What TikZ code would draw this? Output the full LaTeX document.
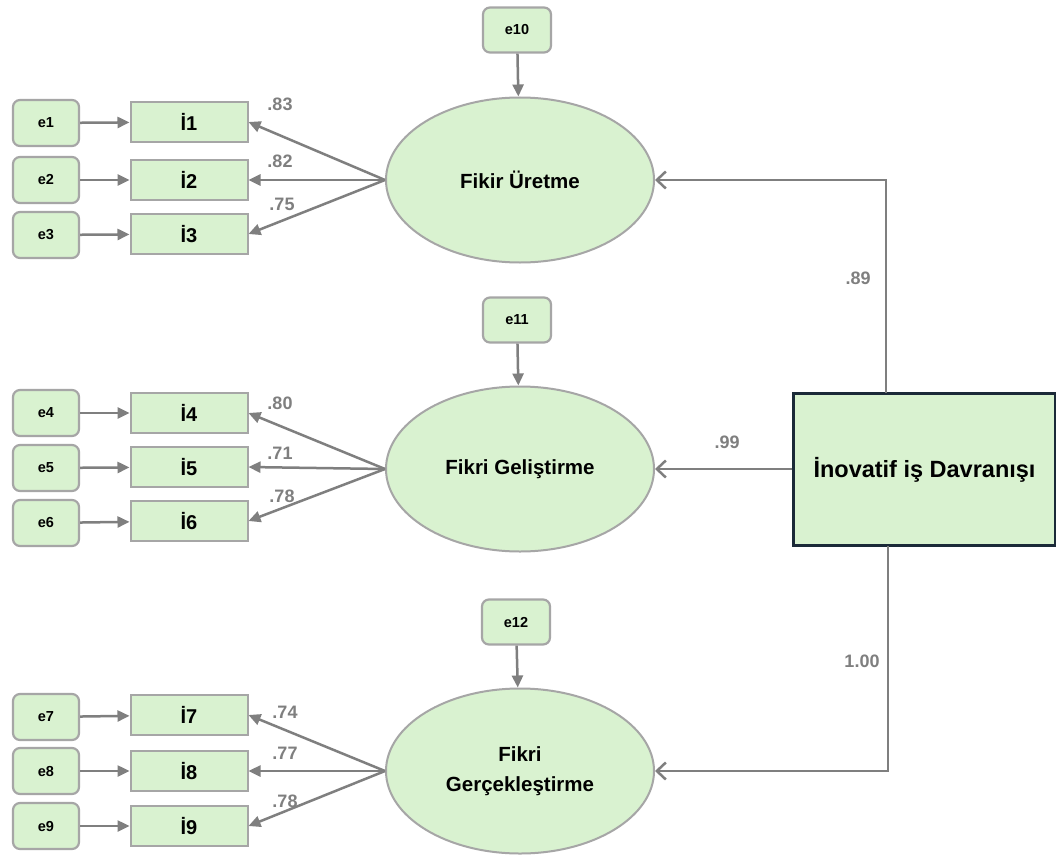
\documentclass[tikz,border=0pt]{standalone}
\usepackage{fontspec}
\setmainfont{Liberation Sans}
\usetikzlibrary{arrows.meta,calc,shapes.geometric}
\definecolor{gfill}{HTML}{D9F2D0}
\definecolor{gline}{HTML}{A6A6A6}
\definecolor{garrow}{HTML}{7F7F7F}
\definecolor{navy}{HTML}{1B2A38}
\tikzset{
  errbox/.style={draw=gline,line width=2.2pt,fill=gfill,rounded corners=7pt,minimum width=66pt,minimum height=46pt,inner sep=0pt,font=\bfseries\fontsize{14.5}{16}\selectfont},
  itembox/.style={draw=gline,line width=2pt,fill=gfill,minimum width=117pt,minimum height=40pt,inner sep=0pt,font=\bfseries\fontsize{20}{22}\selectfont},
  latent/.style={draw=gline,line width=2pt,fill=gfill,ellipse,minimum width=268pt,minimum height=165pt,inner sep=0pt,align=center,font=\bfseries\fontsize{20.5}{30}\selectfont},
  errarrow/.style={draw=garrow,line width=2.5pt,-{Triangle[length=12pt,width=11pt]}},
  loadarrow/.style={draw=garrow,line width=2.5pt,-{Triangle[length=12pt,width=11pt]}},
  structarrow/.style={draw=garrow,line width=2.5pt,-{Straight Barb[length=9pt,width=17pt,line width=2.5pt]}},
  coef/.style={text=garrow,font=\bfseries\fontsize{18}{20}\selectfont,inner sep=0pt},
}
\begin{document}
\begin{tikzpicture}[x=1pt,y=-1pt]
\useasboundingbox[fill=white] (0,0) rectangle (1056,856);

% latent ellipses
\node[latent] (f1) at (520,180) {Fikir Üretme};
\node[latent] (f2) at (520,469) {Fikri Geliştirme};
\node[latent] (f3) at (520,771) {Fikri\\Gerçekleştirme};

% disturbances
\node[errbox,minimum width=68pt,minimum height=45pt] (e10) at (517,30) {e10};
\node[errbox,minimum width=68pt,minimum height=45pt] (e11) at (517,320) {e11};
\node[errbox,minimum width=68pt,minimum height=45pt] (e12) at (516,622) {e12};
\draw[errarrow] (e10) -- (f1);
\draw[errarrow] (e11) -- (f2);
\draw[errarrow] (e12) -- (f3);

% items and errors
\foreach \n/\y/\ey in {1/122/123,2/180/180,3/234/235,4/413/413,5/467/468,6/521/523,7/715/717,8/771/771,9/826/826}{
  \node[itembox] (i\n) at (189,\y) {İ\n};
  \node[errbox] (e\n) at (46,\ey) {e\n};
  \draw[errarrow] (e\n) -- (i\n);
}

% loadings
\foreach \n/\f in {1/f1,2/f1,3/f1,4/f2,5/f2,6/f2,7/f3,8/f3,9/f3}{
  \draw[loadarrow] (\f.west) -- (i\n.east);
}
\node[coef] (l1) at (280,104) {.83};
\node[coef] (l2) at (280,161) {.82};
\node[coef] (l3) at (282,204) {.75};
\node[coef] (l4) at (280,403) {.80};
\node[coef] (l5) at (280,453) {.71};
\node[coef] (l6) at (282,496) {.78};
\node[coef] (l7) at (285,712) {.74};
\node[coef] (l8) at (285,753) {.77};
\node[coef] (l9) at (285,801) {.78};

% second order
\node[draw=navy,line width=2.2pt,fill=gfill,minimum width=262pt,minimum height=152pt,inner sep=0pt,font=\bfseries\fontsize{23.5}{26}\selectfont] (big) at (924.5,469.5) {İnovatif iş Davranışı};
\coordinate (t1) at (886,393);
\coordinate (t3) at (888,546);
\draw[structarrow] (t1) |- (f1.east);
\draw[structarrow] (big.west |- f2.east) -- (f2.east);
\draw[structarrow] (t3) |- (f3.east);
\node[coef] (s1) at (858,278) {.89};
\node[coef] (s2) at (727,442) {.99};
\node[coef] (s3) at (862,661) {1.00};
\end{tikzpicture}
\end{document}
